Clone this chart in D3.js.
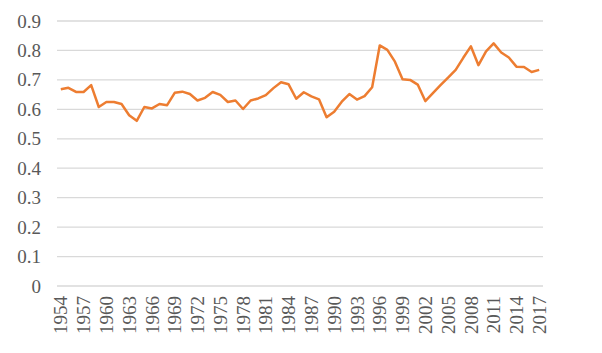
<!DOCTYPE html>
<html>
<head>
<meta charset="utf-8">
<script src="https://cdn.jsdelivr.net/npm/d3@7"></script>
<style>
  body { margin: 0; background: #fff; }
</style>
</head>
<body>
<script>
// years 1954..2017
const years = d3.range(1954, 2018);
const values = [
    0.668, 0.673, 0.659, 0.659, 0.682, 0.608, 0.625, 0.625, 0.618, 0.580, 0.561,
    0.608, 0.603, 0.618, 0.614, 0.656, 0.660, 0.652, 0.630, 0.639, 0.659, 0.649,
    0.625, 0.630, 0.601, 0.630, 0.637, 0.648, 0.672, 0.692, 0.685, 0.636,
    0.658, 0.644, 0.634, 0.573, 0.592, 0.626, 0.652, 0.633, 0.645, 0.675, 0.817,
    0.802, 0.762, 0.702, 0.700, 0.684, 0.628, 0.655, 0.682, 0.708, 0.734, 0.775,
    0.814, 0.750, 0.797, 0.824, 0.793, 0.776, 0.745, 0.744, 0.727, 0.734
];
const yTicks = [0, 0.1, 0.2, 0.3, 0.4, 0.5, 0.6, 0.7, 0.8, 0.9];
const xTickYears = years.filter((d, i) => i % 3 === 0);

const data = years.map((y, i) => ({ year: y, value: values[i] }));

const labelFont = "Liberation Serif";

// --- SVG Setup ---
const width = 602, height = 353;
const margin = { top: 21, right: 59, bottom: 67, left: 57 };
const innerW = width - margin.left - margin.right;
const innerH = height - margin.top - margin.bottom;

const svg = d3.select("body").append("svg")
    .attr("width", width)
    .attr("height", height)
    .append("g")
    .attr("transform", `translate(${margin.left}, ${margin.top})`);

// Scales
const xScale = d3.scaleBand()
    .domain(years)
    .range([0, innerW]);
const yScale = d3.scaleLinear()
    .domain([0, 0.9])
    .range([innerH, 0]);

// Gridlines
svg.append("g")
    .selectAll("line")
    .data(yTicks)
    .enter().append("line")
    .attr("x1", 0)
    .attr("x2", innerW)
    .attr("y1", d => yScale(d))
    .attr("y2", d => yScale(d))
    .attr("stroke", "#d9d9d9")
    .attr("stroke-width", 1.3);

// Y axis
const yAxis = svg.append("g")
    .call(d3.axisLeft(yScale).tickValues(yTicks).tickSize(0).tickPadding(16).tickFormat(d => d === 0 ? "0" : d3.format(".1f")(d)));
yAxis.select(".domain").remove();
yAxis.selectAll("text")
    .style("font-family", labelFont)
    .style("font-size", "19px")
    .style("fill", "#595959");

// X axis
const xAxis = svg.append("g")
    .attr("transform", `translate(0, ${innerH})`)
    .call(d3.axisBottom(xScale).tickValues(xTickYears).tickSize(0));
xAxis.select(".domain").remove();
xAxis.selectAll("text")
    .style("font-family", labelFont)
    .style("font-size", "19px")
    .style("fill", "#595959")
    .attr("transform", "rotate(-90)")
    .attr("x", -10)
    .attr("y", 0)
    .attr("dy", "0.35em")
    .style("text-anchor", "end");

// Line
const line = d3.line()
    .x(d => xScale(d.year) + xScale.bandwidth() / 2)
    .y(d => yScale(d.value));

svg.append("path")
    .datum(data)
    .attr("fill", "none")
    .attr("stroke", "#ED7D31")
    .attr("stroke-width", 2.5)
    .attr("stroke-linejoin", "round")
    .attr("d", line);
</script>
</body>
</html>
